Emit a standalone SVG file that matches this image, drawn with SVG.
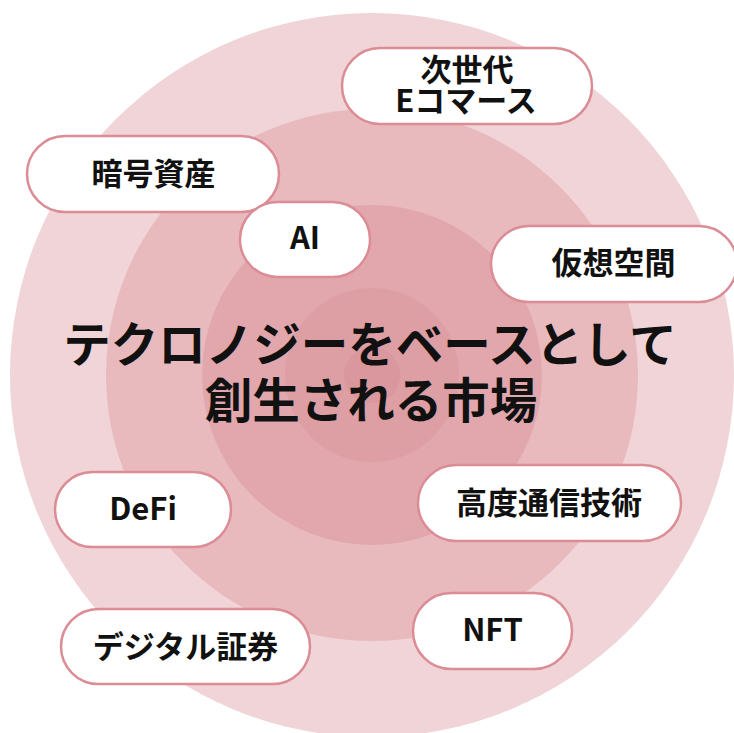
<svg xmlns="http://www.w3.org/2000/svg" width="734" height="733" viewBox="0 0 734 733">
<style>
.pill{fill:#ffffff;stroke:#db8c95;stroke-width:2.5}
.lbl{font-family:"Noto Sans CJK JP","Noto Sans",sans-serif;font-weight:700;font-size:31px;fill:#111111;text-anchor:middle}
.title{font-family:"Noto Sans CJK JP","Noto Sans",sans-serif;font-weight:700;font-size:47.5px;fill:#111111;text-anchor:middle}
</style>
<rect width="734" height="733" fill="#ffffff"/>
<g id="rings">
<circle cx="372" cy="375" r="362" fill="#f0d4d7"/>
<circle cx="372" cy="375" r="266" fill="#e8babd"/>
<circle cx="372" cy="375" r="170" fill="#e1a7ac"/>
<circle cx="372" cy="375" r="87" fill="#dd9ea4"/>
<circle cx="372" cy="375" r="28" fill="#da979d"/>
</g>
<g id="title">
<text class="title" x="370" y="362">テクロノジーをベースとして</text>
<text class="title" x="371" y="418">創生される市場</text>
</g>
<g id="connectors"></g>
<g id="node-ecommerce">
<rect class="pill" x="342" y="48" width="250" height="76" rx="38"/>
<text class="lbl" x="467" y="81">次世代</text>
<text class="lbl" x="466" y="112">Eコマース</text>
</g>
<g id="node-crypto">
<rect class="pill" x="27" y="136" width="252" height="76" rx="38"/>
<text class="lbl" x="153.5" y="185">暗号資産</text>
</g>
<g id="node-ai">
<rect class="pill" x="240" y="202" width="130" height="75" rx="37.5"/>
<text class="lbl" x="305" y="249">AI</text>
</g>
<g id="node-virtual">
<rect class="pill" x="491" y="226" width="246" height="76" rx="38"/>
<text class="lbl" x="613.5" y="274">仮想空間</text>
</g>
<g id="node-defi">
<rect class="pill" x="55" y="472" width="176" height="75" rx="37.5"/>
<text class="lbl" x="143" y="520">DeFi</text>
</g>
<g id="node-telecom">
<rect class="pill" x="418" y="465" width="263" height="76" rx="38"/>
<text class="lbl" x="549" y="514">高度通信技術</text>
</g>
<g id="node-nft">
<rect class="pill" x="413" y="593" width="159" height="76" rx="38"/>
<text class="lbl" x="492.5" y="641">NFT</text>
</g>
<g id="node-security">
<rect class="pill" x="61" y="609" width="249" height="75" rx="37.5"/>
<text class="lbl" x="185.5" y="658">デジタル証券</text>
</g>
</svg>
